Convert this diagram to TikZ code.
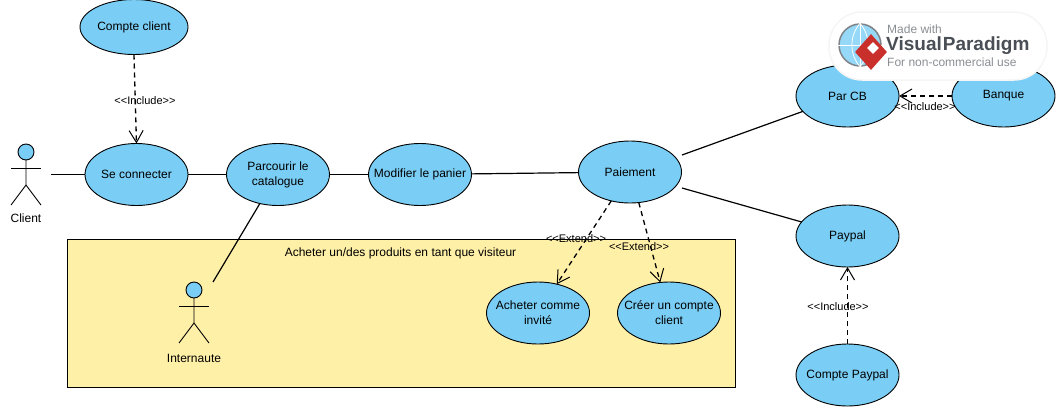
\documentclass[tikz,border=0pt]{standalone}
\usepackage{fontspec}
\setmainfont{Liberation Sans}
\usetikzlibrary{shapes.geometric,arrows.meta}
\definecolor{usecasefill}{HTML}{7ACEF5}
\definecolor{systemfill}{HTML}{FFF0A8}
\definecolor{badgegray}{HTML}{8A8F94}
\definecolor{badgedark}{HTML}{4A4F55}
\definecolor{badgered}{HTML}{C9302C}
\tikzset{
  usecase/.style={ellipse, draw=black, fill=usecasefill, line width=.9pt, minimum width=103pt, minimum height=62pt, inner xsep=-14pt, inner ysep=0pt, outer sep=0pt, align=center, font=\fontsize{12}{15}\selectfont},
  head/.style={circle, draw=black, fill=usecasefill, line width=.9pt, minimum size=16pt, inner sep=0pt, outer sep=0pt},
  actorname/.style={font=\fontsize{12}{15}\selectfont, inner sep=0pt},
  assoc/.style={line width=1.2pt},
  dep/.style={line width=1.3pt, dash pattern=on 5pt off 4pt, -{Straight Barb[length=12pt,width=14pt,line width=1pt]}},
  stereo/.style={font=\fontsize{11}{13}\selectfont, inner sep=0pt}
}
\begin{document}
\begin{tikzpicture}[x=1pt, y=-1pt]
\useasboundingbox (0,0) rectangle (1056,407);
% system box
\node[draw=black, fill=systemfill, line width=.9pt, minimum width=668pt, minimum height=148pt, inner sep=0pt, outer sep=0pt] (visiteur) at (401,313) {};
\node[actorname] (visiteurtitre) at (400.5,253) {Acheter un/des produits en tant que visiteur};
% use cases
\node[usecase, minimum width=108pt, minimum height=55pt] (compte) at (134,27) {Compte client};
\node[usecase] (connecter) at (136.5,174.5) {Se connecter};
\node[usecase] (catalogue) at (278,174.5) {Parcourir le\\catalogue};
\node[usecase] (panier) at (420,174.5) {Modifier le panier};
\node[usecase] (paiement) at (630,172) {Paiement};
\node[usecase] (parcb) at (847.5,96) {Par CB};
\node[usecase] (banque) at (1003.5,96) {Banque};
\node[usecase] (paypal) at (847.5,236) {Paypal};
\node[usecase] (comptepaypal) at (847.5,375) {Compte Paypal};
\node[usecase] (invite) at (538,313) {Acheter comme\\invité};
\node[usecase] (creer) at (669,313) {Créer un compte\\client};
% actors
\foreach \name/\x/\y/\t/\txt in {client/26/152/218/Client, internaute/194/290/358/Internaute}{
  \node[head] (\name) at (\x,\y) {};
  \draw[line width=.9pt] (\name.south) -- ++(0,25) coordinate (\name hip) -- ++(-15,20);
  \draw[line width=.9pt] (\name hip) -- ++(15,20);
  \draw[line width=.9pt] (\x-15,\y+16.5) -- (\x+15,\y+16.5);
  \node[actorname] (\name txt) at (\x,\t) {\txt};
}
\coordinate (clientfin) at (51,174.5);
\coordinate (internautefin) at (213,282);
\coordinate (parcbfin) at (682,155);
\coordinate (paypalfin) at (682,188);
% associations
\draw[assoc] (clientfin) -- (connecter.west);
\draw[assoc] (connecter) -- (catalogue);
\draw[assoc] (catalogue) -- (panier);
\draw[assoc] (panier) -- (paiement);
\draw[assoc] (catalogue.-122) -- (internautefin);
\draw[assoc] (parcbfin) -- (parcb.199);
\draw[assoc] (paypalfin) -- (paypal.163);
% include and extend
\draw[dep] (compte.south) -- (connecter.north);
\node[stereo] (comptetxt) at (145,100.5) {<{}<Include>{}>};
\draw[dep] (banque) -- (parcb);
\node[stereo] (parcbtxt) at (925,106.5) {<{}<Include>{}>};
\draw[dep] (comptepaypal.north) -- (paypal.south);
\node[stereo] (paypaltxt) at (838,306.5) {<{}<Include>{}>};
\draw[dep] (paiement.-123) -- (invite.57);
\node[stereo] (invitetxt) at (576,238.5) {<{}<Extend>{}>};
\draw[dep] (paiement.-74) -- (creer.106);
\node[stereo] (creertxt) at (639,246.5) {<{}<Extend>{}>};
% badge
\node[fill=white, draw=black!4, line width=1.5pt, rounded corners=33pt, minimum width=218pt, minimum height=68pt, inner sep=0pt, outer sep=0pt] (badge) at (938,46) {};
\node[circle, draw=badgedark!70, fill=usecasefill!80, line width=1.5pt, minimum size=42pt, inner sep=0pt] (globe) at (860,45) {};
\draw[white, line width=.8pt] (globe.north) -- (globe.south) (globe.west) -- (globe.east);
\draw[white, line width=.8pt] (globe.north) to[bend left=40] (globe.south);
\draw[white, line width=.8pt] (globe.north) to[bend right=40] (globe.south);
\node[diamond, fill=badgered, minimum width=32pt, minimum height=36pt, inner sep=0pt] (logo) at (871,52) {};
\node[diamond, fill=white, minimum size=12pt, inner sep=0pt] (logoin) at (873,48) {};
\node[anchor=west, inner sep=0pt, text=badgegray, font=\fontsize{12}{14}\selectfont] (madewith) at (887,29) {Made with};
\node[anchor=west, inner sep=0pt, text=badgedark, font=\fontsize{19}{22}\bfseries\selectfont] (vpname) at (886,46) {Visual\hspace{1pt}Paradigm};
\node[anchor=west, inner sep=0pt, text=badgegray, font=\fontsize{12}{14}\selectfont] (noncom) at (887,62) {For non-commercial use};
\end{tikzpicture}
\end{document}
